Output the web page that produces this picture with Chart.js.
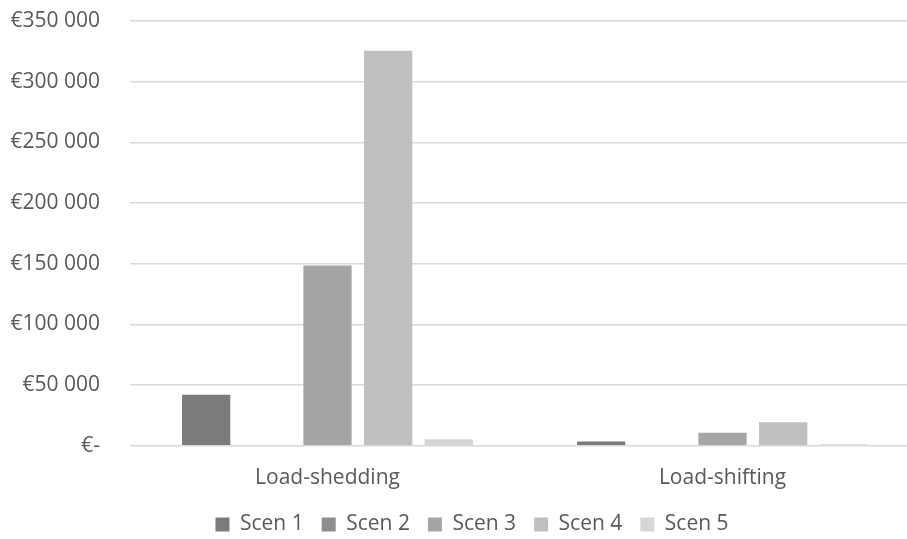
<!DOCTYPE html>
<html>
<head>
<meta charset="utf-8">
<script src="https://cdn.jsdelivr.net/npm/chart.js@4"></script>
<style>
    html, body { margin: 0; padding: 0; background: #fff; overflow: hidden; }
    #wrap { width: 920px; height: 539px; }
</style>
</head>
<body>
<div id="wrap"><canvas id="costChart"></canvas></div>
<script>
const categories = ['Load-shedding', 'Load-shifting'];
const seriesNames = ['Scen 1', 'Scen 2', 'Scen 3', 'Scen 4', 'Scen 5'];
const scen1 = [42000, 3500];
const scen2 = [0, 0];
const scen3 = [148500, 10700];
const scen4 = [325500, 19500];
const scen5 = [5300, 1200];
const yTicks = [0, 50000, 100000, 150000, 200000, 250000, 300000, 350000];

const colors = ['#7b7b7b', '#8e8e8e', '#a5a5a5', '#bfbfbf', '#d6d6d6'];
const seriesValues = [scen1, scen2, scen3, scen4, scen5];

function euro(v) {
    if (v === 0) return '€-';
    return '€' + String(v).replace(/\B(?=(\d{3})+(?!\d))/g, ' ');
}

// nudge the legend a bit right, like the original
const legendShift = {
    id: 'legendShift',
    afterLayout(chart) {
        chart.legend.left += 12;
        chart.legend.right += 12;
    }
};

document.addEventListener('DOMContentLoaded', () => {
    const ctx = document.getElementById('costChart').getContext('2d');
    const font = { family: '"Open Sans", "Noto Sans", sans-serif', size: 21 };

    new Chart(ctx, {
        type: 'bar',
        data: {
            labels: categories,
            datasets: seriesNames.map((name, i) => ({
                label: name,
                data: seriesValues[i],
                backgroundColor: colors[i],
                borderWidth: 0,
                barPercentage: 0.795,
                categoryPercentage: 0.768
            }))
        },
        options: {
            responsive: true,
            maintainAspectRatio: false,
            animation: false,
            layout: { padding: { left: 0, right: 0, top: 0, bottom: -6 } },
            scales: {
                x: {
                    grid: { display: false },
                    border: { display: false },
                    afterFit: axis => { axis.height -= 7; },
                    ticks: { color: '#595959', font: font, padding: 12 }
                },
                y: {
                    min: 0,
                    max: 350000,
                    afterBuildTicks: axis => { axis.ticks = yTicks.map(v => ({ value: v })); },
                    afterFit: axis => {
                        axis.width = 130;
                        axis.paddingTop = 21;
                        axis.paddingBottom = 0;
                    },
                    grid: { color: '#d9d9d9', lineWidth: 1.5, drawTicks: false },
                    border: { display: false },
                    ticks: { color: '#595959', font: font, padding: 30, callback: v => euro(v) }
                }
            },
            plugins: {
                legend: {
                    position: 'bottom',
                    labels: {
                        color: '#595959',
                        font: font,
                        boxWidth: 14,
                        boxHeight: 14,
                        padding: 18
                    }
                },
                tooltip: { enabled: false }
            }
        },
        plugins: [legendShift]
    });
});
</script>
</body>
</html>
